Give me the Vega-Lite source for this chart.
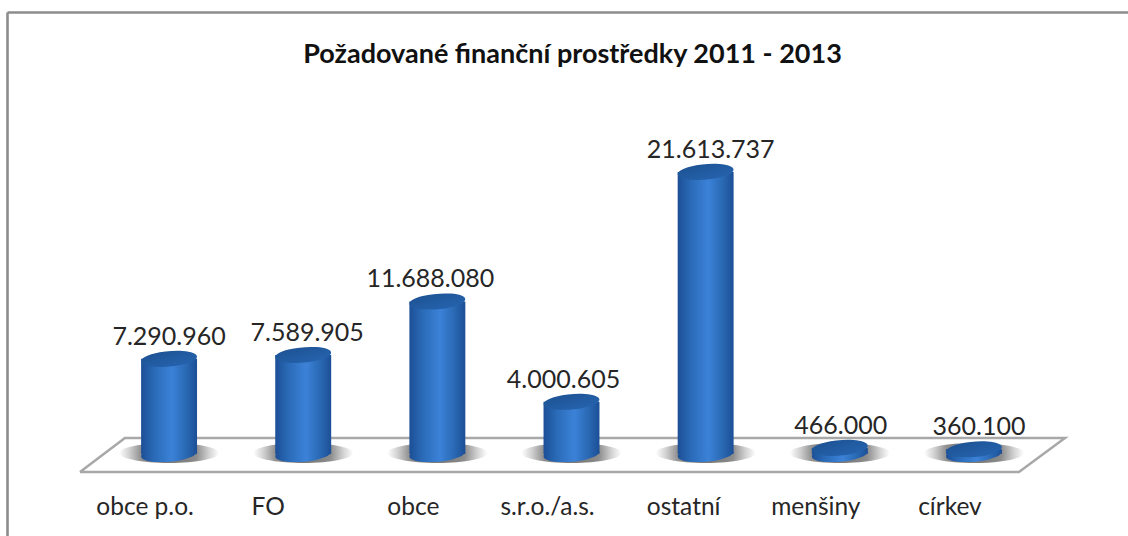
{
"$schema":"https://vega.github.io/schema/vega-lite/v6.json",
"width":1121,"height":524,
"autosize":{"type":"none"},
"padding":{"left":7,"top":12,"right":0,"bottom":0},
"background":"white",
"config":{"view":{"stroke":null},"font":"Lato"},
"title":{"text":"Požadované finanční prostředky 2011 - 2013","font":"Lato","fontSize":27,"fontWeight":"bold","color":"#111111","anchor":"middle","frame":"group","offset":-57,"dx":5},
"datasets":{
"bars":[
{"category":"obce p.o.","value":7290960,"label":"7.290.960"},
{"category":"FO","value":7589905,"label":"7.589.905"},
{"category":"obce","value":11688080,"label":"11.688.080"},
{"category":"s.r.o./a.s.","value":4000605,"label":"4.000.605"},
{"category":"ostatní","value":21613737,"label":"21.613.737"},
{"category":"menšiny","value":466000,"label":"466.000"},
{"category":"církev","value":360100,"label":"360.100"}
],
"floor":[
{"pos":-0.164,"level":-1379000,"step":1},
{"pos":0.171,"level":1226000,"step":2},
{"pos":7.179,"level":1226000,"step":3},
{"pos":6.836,"level":-1379000,"step":4},
{"pos":-0.164,"level":-1379000,"step":5}
]
},
"resolve":{"scale":{"x":"independent"},"axis":{"x":"independent"}},
"layer":[
{
"data":{"name":"floor"},
"mark":{"type":"line","stroke":"#a8a8a8","strokeWidth":2.5,"strokeJoin":"miter","interpolate":"linear"},
"encoding":{
"x":{"field":"pos","type":"quantitative","scale":{"domain":[-0.708,7.649],"zero":false,"nice":false},"axis":{"orient":"top","domain":true,"domainColor":"#8c8c8c","domainWidth":2.6,"ticks":false,"labels":false,"grid":false,"title":null}},
"y":{"field":"level","type":"quantitative","scale":{"domain":[-6283500,33870000],"zero":false,"nice":false},"axis":{"domain":true,"domainColor":"#8c8c8c","domainWidth":2.6,"ticks":false,"labels":false,"grid":false,"title":null}},
"order":{"field":"step"}
}
},
{
"data":{"name":"bars"},
"encoding":{
"x":{"field":"category","type":"nominal","sort":null,"scale":{"range":[95,1034]},"axis":{"orient":"bottom","domain":false,"ticks":false,"grid":false,"title":null,"labelAngle":0,"labelFontSize":24.5,"labelColor":"#262626","labelFont":"Lato","labelOffset":{"expr":"datum.value==='FO'?-35:datum.value==='ostatní'?-22:-24"},"offset":-29,"labelPadding":0,"labelBaseline":"middle"}}
},
"layer":[
{
"mark":{"type":"point","filled":true,"opacity":1,"size":10000,"yOffset":-1,"shape":"M-1,0A1,0.2,0,1,1,1,0A1,0.2,0,1,1,-1,0Z","fill":{"gradient":"radial","stops":[{"offset":0,"color":"#707070"},{"offset":0.55,"color":"#8c8c8c"},{"offset":0.8,"color":"#d2d2d2"},{"offset":1,"color":"#ffffff"}]}},
"encoding":{"y":{"datum":0}}
},
{
"mark":{"type":"bar","width":{"band":0.417},"fill":{"gradient":"linear","x1":0,"x2":1,"y1":0,"y2":0,"stops":[{"offset":0,"color":"#1c4f96"},{"offset":0.25,"color":"#2b6cb9"},{"offset":0.55,"color":"#3b82d8"},{"offset":0.8,"color":"#2a69b4"},{"offset":1,"color":"#1c4f96"}]}},
"encoding":{"y":{"field":"value","type":"quantitative","stack":null},"y2":{"datum":0}}
},
{
"mark":{"type":"point","filled":true,"opacity":1,"size":3136,"shape":"M-0.996,0.087A1,0.27,-5,1,0,0.996,-0.087A1,0.27,-5,1,0,-0.996,0.087Z","fill":{"gradient":"linear","x1":0,"x2":1,"y1":0,"y2":0,"stops":[{"offset":0,"color":"#1c4f96"},{"offset":0.25,"color":"#2b6cb9"},{"offset":0.55,"color":"#3b82d8"},{"offset":0.8,"color":"#2a69b4"},{"offset":1,"color":"#1c4f96"}]}},
"encoding":{"y":{"datum":0}}
},
{
"mark":{"type":"point","filled":true,"opacity":1,"size":3136,"shape":"M-0.996,0.087A1,0.27,-5,1,0,0.996,-0.087A1,0.27,-5,1,0,-0.996,0.087Z","fill":{"gradient":"linear","x1":0,"x2":1,"y1":0,"y2":1,"stops":[{"offset":0,"color":"#1c5090"},{"offset":1,"color":"#2766b2"}]}},
"encoding":{"y":{"field":"value","type":"quantitative"}}
},
{
"mark":{"type":"text","fontSize":25,"font":"Lato","color":"#262626","dy":-22,"baseline":"middle","align":"center","dx":{"expr":"[0,4,-7,-8,5,1,5][indexof(['obce p.o.','FO','obce','s.r.o./a.s.','ostatní','menšiny','církev'],datum.category)]"}},
"encoding":{"y":{"field":"value","type":"quantitative"},"text":{"field":"label","type":"nominal"}}
}
]
}
]
}
